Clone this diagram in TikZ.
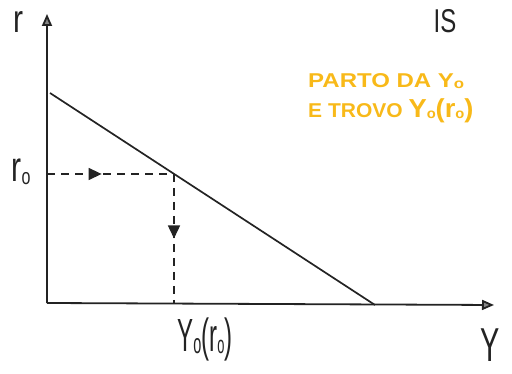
\documentclass[tikz,border=0pt]{standalone}
\usepackage{fontspec}
\setsansfont{Liberation Sans}
\usetikzlibrary{arrows.meta,decorations.markings}
\definecolor{hand}{RGB}{35,35,35}
\definecolor{marker}{RGB}{248,185,25}
\tikzset{
  axisline/.style={draw=hand, line width=1.8pt, -{Triangle[length=12pt,width=10pt,fill=hand!55]}},
  isline/.style={draw=hand, line width=1.7pt},
  guideline/.style={draw=hand, line width=1.4pt, dash pattern=on 8pt off 6pt},
  midarrow/.style={postaction={decorate,decoration={markings,
     mark=at position #1 with {\arrow{Triangle[length=13pt,width=12pt]}}}}},
  handlabel/.style={text=hand, font=\sffamily, inner sep=0pt},
  notelabel/.style={text=marker, font=\sffamily\fontsize{20}{22}\selectfont, inner sep=0pt, anchor=base west},
}
\begin{document}
\begin{tikzpicture}[x=1pt,y=1pt]
\useasboundingbox (0,0) rectangle (512,374);
\coordinate (O) at (47,71);
\coordinate (ytop) at (47,360);
\coordinate (xend) at (494,69);
\coordinate (A) at (50,281);
\coordinate (B) at (375,69);
\coordinate (rzero) at (47,200);
\coordinate (P) at (174,200);
\coordinate (Pfoot) at (174,71);
% axes
\draw[axisline] (O) -- (ytop);
\draw[axisline] (O) -- (xend);
% IS line
\draw[isline] (A) -- (B);
% guides
\draw[guideline, midarrow=0.43] (rzero) -- (P);
\draw[guideline, midarrow=0.5] (P) -- (Pfoot);
% labels
\node[handlabel, anchor=base] (rlab) at (18,341) {\scalebox{1}[1.3]{\fontsize{30}{30}\selectfont r}};
\node[handlabel, anchor=base] (r0lab) at (21,192) {\scalebox{1}[1.4]{\fontsize{30}{30}\selectfont r\raisebox{-2pt}{\fontsize{16}{16}\selectfont o}}};
\node[handlabel, anchor=base] (Y0lab) at (205,22) {\scalebox{0.8}[1.55]{\fontsize{30}{30}\selectfont Y\raisebox{-1pt}{\fontsize{18}{18}\selectfont o}(r\raisebox{-1pt}{\fontsize{16}{16}\selectfont o})}};
\node[handlabel, anchor=base] (Ylab) at (490,12) {\scalebox{0.85}[1.4]{\fontsize{34}{34}\selectfont Y}};
\node[handlabel, anchor=base] (ISlab) at (445,341) {\scalebox{0.8}[1.1]{\fontsize{30}{30}\selectfont IS}};
\node[notelabel] (note1) at (308,286) {\scalebox{1.2}[1]{\bfseries PARTO DA Y\raisebox{-1pt}{\fontsize{14}{14}\selectfont o}}};
\node[notelabel] (note2) at (308,256) {\scalebox{1.05}[1]{\bfseries E TROVO \fontsize{26}{26}\selectfont Y\raisebox{-1pt}{\fontsize{14}{14}\selectfont o}(r\raisebox{-1pt}{\fontsize{14}{14}\selectfont o})}};
\end{tikzpicture}
\end{document}
